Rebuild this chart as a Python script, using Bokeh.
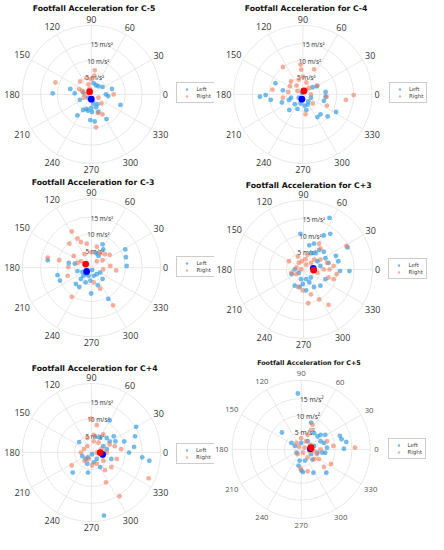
import math
from bokeh.plotting import figure
from bokeh.layouts import column, row
from bokeh.models import Range1d, Legend, LegendItem
from bokeh.core.properties import value
from bokeh.embed import file_html
from bokeh.resources import INLINE

# ---------------- data (acceleration components, m/s^2) ----------------
PANELS = ["C-5", "C-4", "C-3", "C+3", "C+4", "C+5"]
ANGLE_TICKS = [0, 30, 60, 90, 120, 150, 180, 210, 240, 270, 300, 330]
RING_TICKS = [5, 10, 15]
RING_LABELS = ["5 m/s²", "10 m/s²", "15 m/s²"]
R_MAX = 20.4
SERIES = ["Left", "Right"]

C5_LEFT = [(-11.4, 0.3), (-6.2, 1.6), (-4.9, 0.3), (-3.4, -1.6), (-4.1, -6.2), (-2.4, -4.6), (-1.4, -4.3),
           (0.0, -4.0), (0.6, -2.7), (1.4, -3.8), (-0.3, -7.6), (1.0, -8.0), (4.5, -7.3), (1.8, -2.9),
           (3.3, 2.2), (2.1, 2.4), (6.1, 1.6), (4.3, 0.0), (5.0, -0.5), (8.6, -3.1), (0.7, 3.3), (1.4, 2.7),
           (-2.4, 0.6), (-1.0, -1.0), (0.2, -5.2), (-1.0, -4.8), (2.1, -5.2)]
C5_RIGHT = [(-10.6, 3.5), (-3.6, 1.5), (-2.7, 1.0), (-1.4, 4.8), (1.0, 7.1), (0.9, 5.5), (0.0, 4.5),
            (-2.0, 0.0), (2.1, -1.0), (3.0, -2.7), (1.9, -5.5), (3.3, -5.9), (1.4, -9.7), (-3.3, 3.8),
            (-0.8, 3.0), (6.6, 0.0), (-0.5, 1.7), (-2.2, -1.0)]

C4_LEFT = [(-12.7, -0.7), (-11.0, -0.2), (-9.5, -1.6), (-5.9, 1.2), (-8.1, 3.3), (-4.1, -1.6), (-4.0, -4.6),
           (-2.4, -2.9), (-1.6, -4.3), (-0.7, -2.7), (0.5, -3.3), (1.4, -3.0), (1.0, -4.6), (2.4, -1.0),
           (4.3, -6.7), (5.2, -5.9), (7.3, -6.5), (9.8, -5.2), (6.7, 0.7), (6.7, -0.7), (6.2, -1.9),
           (4.1, 2.4), (2.9, 2.1), (-1.2, -1.0), (-0.3, 0.5), (-3.5, -1.0), (-6.2, -2.4), (1.6, -2.1)]
C4_RIGHT = [(-5.9, 8.1), (-0.7, 8.8), (-0.5, 7.3), (3.3, 7.4), (4.3, 2.6), (0.0, 5.2), (-1.2, 4.3),
            (-3.5, 3.8), (-1.9, 2.6), (1.0, 3.5), (1.9, 1.9), (2.4, 0.0), (-4.3, 0.7), (-5.9, -1.0),
            (-9.0, 1.4), (7.0, -0.7), (7.1, -3.3), (12.7, -1.6), (15.0, -0.2), (0.8, -5.9), (-1.6, 1.0),
            (1.0, 1.4), (-3.8, 2.4), (2.9, -2.7)]

C3_LEFT = [(-12.9, 2.2), (-10.0, -2.2), (-9.3, -3.8), (-6.7, 1.4), (-4.9, 1.2), (-4.1, -1.0), (-4.6, -4.8),
           (-3.6, -5.7), (-3.1, -3.3), (-2.4, -2.4), (-1.7, -4.3), (-0.3, -3.8), (0.7, -2.4), (1.6, -1.9),
           (2.6, -1.4), (-0.1, -7.6), (1.9, -5.2), (3.3, -3.3), (5.0, -9.2), (3.3, 6.9), (3.5, 5.4),
           (10.0, 5.4), (10.2, 3.1), (10.4, 0.5), (2.1, 3.5), (1.4, 4.3), (-1.7, -1.9), (-2.7, -1.2),
           (-0.8, -2.4), (0.2, -0.7)]
C3_RIGHT = [(-12.9, 3.0), (-9.5, 2.2), (-6.8, 0.2), (-5.8, 10.7), (-6.5, 7.1), (-4.1, 8.6), (-3.1, 7.6),
            (-1.4, 7.1), (-2.0, 4.0), (0.0, 4.5), (1.6, 6.2), (2.6, 4.3), (4.0, 4.0), (5.4, 3.8), (1.6, 1.9),
            (3.3, 2.2), (3.5, -0.5), (5.6, 0.5), (7.3, -0.8), (-5.8, -8.6), (6.4, -11.1), (2.6, -6.2),
            (0.7, -4.3), (-5.2, 3.5), (-3.1, 1.9), (-7.0, -2.4), (-4.1, 1.4)]

CP3_LEFT = [(7.7, 15.2), (7.9, 10.5), (6.0, 10.0), (-0.9, 10.5), (1.7, 7.1), (3.1, 7.6), (4.6, 5.7),
            (6.0, 5.2), (6.5, 3.3), (7.4, 1.9), (9.6, 4.0), (10.3, 2.4), (10.8, -0.5), (13.6, -0.5),
            (13.0, 6.5), (2.2, 4.8), (3.6, 4.8), (4.1, 2.4), (5.0, 1.0), (-3.5, -1.4), (-2.6, 0.0),
            (-1.4, -1.0), (-0.7, -2.9), (0.8, -2.9), (1.7, -3.8), (2.2, -2.4), (3.1, -5.2), (5.0, -4.8),
            (6.5, -2.9), (0.8, -6.2), (-2.6, -4.8), (-1.1, -5.2), (-0.2, -4.3)]
CP3_RIGHT = [(12.7, 6.9), (4.6, 7.6), (5.0, 6.2), (-4.3, 2.4), (-2.1, 0.5), (-1.4, 1.9), (-0.5, 2.4),
             (0.6, 3.0), (1.2, 4.3), (2.2, 1.9), (0.8, 1.4), (2.7, -0.5), (4.1, -1.0), (6.0, 0.0), (7.7, 0.0),
             (8.9, 1.0), (9.8, -1.4), (8.9, -2.9), (7.4, -2.4), (2.2, -7.4), (1.4, -10.0), (4.6, -8.9),
             (7.4, -10.5), (-1.6, -5.2), (-0.2, -6.2), (-3.5, -1.0), (-0.7, 0.0), (-2.1, -1.4), (3.1, 2.9),
             (7.0, 1.9), (-1.6, 3.8), (5.0, 2.9)]

CP4_LEFT = [(-3.6, 3.1), (-5.5, -5.9), (-1.0, -5.9), (-1.2, -3.3), (-1.7, -1.9), (0.7, -2.9), (1.6, -1.9),
            (2.6, -4.3), (3.7, -18.6), (5.4, 9.5), (4.5, 4.3), (5.4, 3.3), (7.1, 3.3), (6.6, 4.8), (9.7, 3.3),
            (11.1, 0.0), (12.6, 1.7), (12.9, 4.8), (13.2, 7.6), (15.0, -1.4), (17.1, -2.4), (1.1, 4.8),
            (2.6, 4.3), (3.5, 1.9), (4.5, 1.0), (-2.7, -1.0), (-1.0, -1.4), (0.2, -0.5), (5.9, -1.9),
            (3.5, -1.0)]
CP4_RIGHT = [(-0.1, 10.0), (1.6, 8.1), (3.5, 5.4), (-1.2, 4.3), (0.7, 5.2), (0.7, 3.3), (2.1, 2.9),
             (-2.2, 1.0), (-1.2, 1.9), (-3.1, 0.0), (-0.8, -1.9), (1.6, 0.0), (3.0, 1.0), (4.5, 0.0),
             (5.4, 2.4), (6.9, 1.9), (8.8, 1.0), (7.5, -1.9), (5.9, -4.3), (4.0, -5.2), (4.3, -8.8),
             (8.3, -12.9), (16.9, -7.6), (-5.8, -3.8), (1.6, -3.3), (3.5, -2.4), (-2.0, -2.4), (0.2, -3.8)]

CP5_LEFT = [(-1.0, 16.5), (-5.7, 5.0), (2.9, 7.9), (3.8, 4.8), (4.8, 3.8), (5.7, 4.3), (7.1, 4.3), (5.7, 2.4),
            (6.7, 1.9), (7.6, 0.5), (7.1, -1.0), (6.2, -1.0), (4.8, -1.0), (2.9, -1.4), (3.3, -3.0),
            (1.1, -3.3), (-0.5, -3.3), (-0.8, -4.8), (0.0, -6.2), (0.5, -6.7), (-1.4, -1.0), (-1.9, 1.0),
            (0.0, 1.9), (1.9, 2.4), (3.8, 1.0), (7.4, -6.9), (3.6, -6.9), (11.4, 4.0), (11.9, 3.0),
            (13.3, 2.2), (12.6, 0.2), (-2.9, 1.9)]
CP5_RIGHT = [(3.3, 7.3), (2.9, 5.7), (1.9, 4.3), (1.4, 2.4), (0.0, 3.3), (-1.4, 1.9), (-0.7, 0.8), (1.0, 0.5),
             (2.4, -0.5), (3.8, -0.5), (5.7, 0.0), (5.2, -2.9), (4.6, -1.4), (7.6, 2.4), (9.5, 1.0),
             (8.8, -4.3), (6.7, -5.2), (1.9, -6.5), (-0.2, -5.7), (3.8, -2.9), (15.9, 0.5), (2.7, 1.4),
             (0.5, -1.0), (-1.1, -1.4), (1.9, -2.4)]

MEAN_LEFT = [(0.0, -1.4), (-0.3, -1.4), (-1.4, -1.1), (2.9, 0.3), (3.3, -0.5), (2.7, 0.2)]
MEAN_RIGHT = [(-0.5, 0.8), (0.3, 1.0), (-1.7, 1.1), (3.0, -0.2), (2.6, 0.0), (2.9, 0.5)]

LEFT_DATA = [C5_LEFT, C4_LEFT, C3_LEFT, CP3_LEFT, CP4_LEFT, CP5_LEFT]
RIGHT_DATA = [C5_RIGHT, C4_RIGHT, C3_RIGHT, CP3_RIGHT, CP4_RIGHT, CP5_RIGHT]

# ---------------- layout / style ----------------
TOTAL_W, TOTAL_H = 428, 534           # fits a 444x550 window with 8px margins
REF_W, REF_H = 444.0, 550.0
KX, KY = TOTAL_W / REF_W, TOTAL_H / REF_H
K = (KX + KY) / 2
S = 3.5 * K                           # pixels per m/s^2
COL_X = [0, 222]
ROW_Y = [0, 180, 365]
ROW_H = [175, 180, 179]
COL_W = [214, 214]
# reference-frame positions: (centre x, centre y, title x, title y, legend left, legend top)
LAYOUT = [
    (94.2, 96.7, 97.0, 8.6, 183.0, 87.0),
    (313.7, 96.7, 317.0, 8.6, 403.5, 87.0),
    (94.3, 275.0, 96.0, 187.3, 183.0, 266.0),
    (314.3, 276.7, 319.7, 190.7, 403.0, 268.0),
    (94.3, 465.0, 97.7, 378.7, 182.7, 457.7),
    (312.0, 461.7, 320.0, 372.8, 402.0, 452.3),
]
LEFT_COLOR = "#2f9be0"
RIGHT_COLOR = "#ee7a5a"
GRID_COLOR = "#e8e8e8"


def make_panel(i):
    col, rw = i % 2, i // 2
    w, h = COL_W[col], ROW_H[rw]
    ox, oy = COL_X[col] * KX, ROW_Y[rw] * KY
    rcx, rcy, rtx, rty, rlx, rly = LAYOUT[i]
    cx, cy = rcx * KX, rcy * KY
    small = (i == 5)
    p = figure(width=w, height=h,
               x_range=Range1d((ox - cx) / S, (ox + w - cx) / S),
               y_range=Range1d((cy - (oy + h)) / S, (cy - oy) / S),
               x_axis_type=None, y_axis_type=None, toolbar_location=None,
               output_backend="svg", min_border=0, outline_line_color=None)
    p.background_fill_color = "white"
    p.border_fill_color = "white"

    radii = RING_TICKS + [R_MAX]
    p.circle(x=[0] * len(radii), y=[0] * len(radii), radius=radii,
             fill_color=None, line_color=GRID_COLOR, line_width=1)
    th = [math.radians(a) for a in ANGLE_TICKS]
    p.segment(x0=[0] * len(th), y0=[0] * len(th),
              x1=[R_MAX * math.cos(t) for t in th], y1=[R_MAX * math.sin(t) for t in th],
              line_color=GRID_COLOR, line_width=1)

    # angular labels
    gap = (4.0 if small else 2.5) * K
    fs = (8.0 if small else 9.3) * K
    labs = [str(a) for a in ANGLE_TICKS]
    xo, yo = [], []
    for t, lab in zip(th, labs):
        tw = len(lab) * fs * 0.58
        hh = fs * 0.75
        d = gap + abs(math.cos(t)) * tw / 2 + abs(math.sin(t)) * hh / 2
        xo.append(d * math.cos(t))
        yo.append(-d * math.sin(t))
    p.text(x=[R_MAX * math.cos(t) for t in th], y=[R_MAX * math.sin(t) for t in th], text=labs,
           x_offset=xo, y_offset=yo, text_align="center", text_baseline="middle",
           text_font=value("Open Sans"), text_font_size=f"{fs:.2f}px",
           text_color="#555555" if small else "#333333")

    # radial labels
    ra = math.radians(78)
    p.text(x=[r * math.cos(ra) for r in RING_TICKS], y=[r * math.sin(ra) for r in RING_TICKS],
           text=RING_LABELS, text_align="center", text_baseline="middle",
           text_font=value("Open Sans"), text_font_size=f"{(7.0 if small else 6.6) * K:.2f}px",
           text_color="#333333")

    # points
    L = LEFT_DATA[i]
    R = RIGHT_DATA[i]
    rl = p.scatter(x=[a for a, b in L], y=[b for a, b in L], size=5 * K,
                   fill_color=LEFT_COLOR, fill_alpha=0.68, line_color=None)
    rr = p.scatter(x=[a for a, b in R], y=[b for a, b in R], size=5 * K,
                   fill_color=RIGHT_COLOR, fill_alpha=0.6, line_color=None)
    p.scatter(x=[MEAN_LEFT[i][0]], y=[MEAN_LEFT[i][1]], size=7 * K, fill_color="#0000ff", line_color=None)
    p.scatter(x=[MEAN_RIGHT[i][0]], y=[MEAN_RIGHT[i][1]], size=7 * K, fill_color="#ff0000", line_color=None)

    # title
    tx, ty = rtx * KX, rty * KY
    p.text(x=[(tx - cx) / S], y=[(cy - ty) / S], text=["Footfall Acceleration for " + PANELS[i]],
           text_align="center", text_baseline="middle",
           text_font=value("DejaVu Sans"), text_font_style="bold",
           text_font_size=f"{(6.6 if small else 8.0) * K:.2f}px", text_color="#111111")

    lx, ly = rlx * KX - ox, rly * KY - oy
    legend = Legend(items=[LegendItem(label=SERIES[0], renderers=[rl]),
                           LegendItem(label=SERIES[1], renderers=[rr])],
                    location=(lx, h - ly - 19),
                    label_text_font="DejaVu Sans", label_text_font_size="5.5px",
                    glyph_width=13, glyph_height=6, label_height=6, label_width=13,
                    label_standoff=3, spacing=1, padding=3, margin=0,
                    border_line_color="#999999", border_line_width=1,
                    background_fill_color="white", background_fill_alpha=1.0)
    p.add_layout(legend)
    return p


figs = [make_panel(i) for i in range(6)]
layout = column(row(figs[0], figs[1]), row(figs[2], figs[3]), row(figs[4], figs[5]))
open("out.html", "w").write(file_html(layout, INLINE))
